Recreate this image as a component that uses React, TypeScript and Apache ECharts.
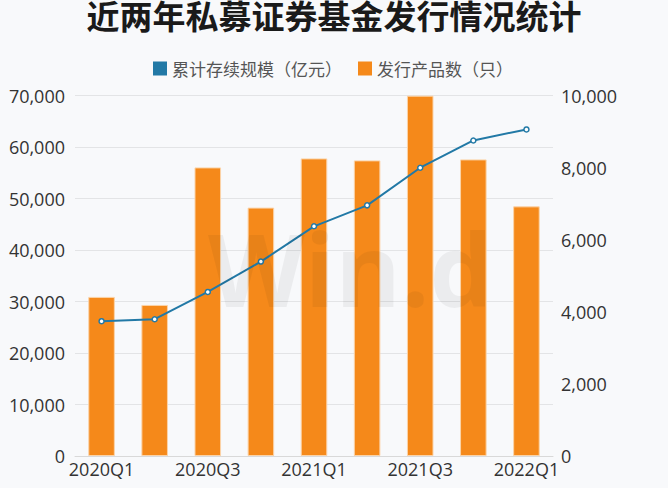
import React, { useEffect, useRef } from "react";
import * as echarts from "echarts";

const categories = ["2020Q1", "2020Q2", "2020Q3", "2020Q4", "2021Q1", "2021Q2", "2021Q3", "2021Q4", "2022Q1"];
const scaleValues = [26180, 26560, 31860, 37750, 44600, 48670, 55980, 61270, 63410];
const issuedCounts = [4413, 4190, 8005, 6890, 8255, 8200, 9995, 8227, 6925];
const leftTicks = [0, 70000, 10000];
const rightTicks = [0, 10000, 2000];

const FONT = '"Open Sans", "Noto Sans", "Noto Sans CJK SC", sans-serif';
const BLUE = "#2279a6";
const ORANGE = "#f5891a";

export default function App() {
  const ref = useRef<HTMLDivElement>(null);
  useEffect(() => {
    if (!ref.current) return;
    const chart = echarts.init(ref.current, undefined, { renderer: "svg" });
    const fmt = (v: number) => v.toLocaleString("en-US");
    chart.setOption({
      animation: false,
      backgroundColor: "#f8f9fb",
      textStyle: { fontFamily: FONT },
      title: {
        text: "近两年私募证券基金发行情况统计",
        left: "center",
        top: -7,
        textStyle: { fontSize: 33, fontWeight: "bold", color: "#1a1a1a", fontFamily: '"Noto Sans CJK SC", sans-serif' },
      },
      legend: {
        top: 55,
        left: 148,
        itemWidth: 14,
        itemHeight: 14,
        itemGap: 16,
        icon: "rect",
        textStyle: { fontSize: 17, color: "#555", fontFamily: '"Noto Sans CJK SC", sans-serif' },
        data: [
          { name: "累计存续规模（亿元）", itemStyle: { color: BLUE, borderWidth: 0 } },
          { name: "发行产品数（只）", itemStyle: { color: ORANGE, borderWidth: 0 } },
        ],
      },
      grid: { left: 75, right: 115, top: 95.5, bottom: 32, containLabel: false },
      xAxis: {
        type: "category",
        data: categories,
        axisTick: { show: false },
        axisLine: { lineStyle: { color: "#d9d9d9" } },
        axisLabel: { interval: 1, fontSize: 18, color: "#333", margin: 4 },
      },
      yAxis: [
        {
          type: "value",
          min: leftTicks[0],
          max: leftTicks[1],
          interval: leftTicks[2],
          axisLabel: { fontSize: 18, color: "#333", margin: 10, formatter: fmt },
          splitLine: { lineStyle: { color: "#e3e4e6" } },
          axisLine: { show: false },
          axisTick: { show: false },
        },
        {
          type: "value",
          min: rightTicks[0],
          max: rightTicks[1],
          interval: rightTicks[2],
          axisLabel: { fontSize: 18, color: "#333", margin: 8, formatter: fmt },
          splitLine: { show: false },
          axisLine: { show: false },
          axisTick: { show: false },
        },
      ],
      series: [
        {
          name: "发行产品数（只）",
          type: "bar",
          yAxisIndex: 1,
          data: issuedCounts,
          barWidth: "50%",
          itemStyle: { color: ORANGE, borderColor: "#fbd3a8", borderWidth: 1 },
          z: 1,
        },
        {
          name: "累计存续规模（亿元）",
          type: "line",
          yAxisIndex: 0,
          data: scaleValues,
          symbol: "circle",
          symbolSize: 5,
          lineStyle: { color: BLUE, width: 2 },
          itemStyle: { color: "#ffffff", borderColor: BLUE, borderWidth: 1.5 },
          z: 3,
        },
      ],
      color: [BLUE, ORANGE],
      graphic: [
        {
          type: "text",
          left: 208,
          top: 218,
          z: 10,
          silent: true,
          style: {
            text: "Win.d",
            fontSize: 100,
            fontWeight: "bold",
            fontFamily: '"Open Sans", sans-serif',
            fill: "rgba(0,0,0,0.05)",
          },
        },
      ],
    });
    return () => chart.dispose();
  }, []);
  return <div ref={ref} style={{ width: 668, height: 488, position: "absolute", left: 0, top: 0 }} />;
}
